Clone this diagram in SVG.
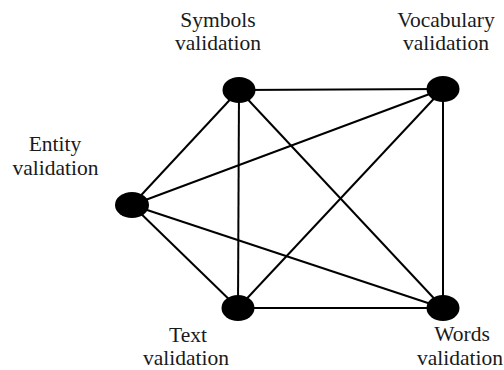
<svg xmlns="http://www.w3.org/2000/svg" width="504" height="370" viewBox="0 0 504 370">
<style>
.e{stroke:#000;stroke-width:2;fill:none}
.n{fill:#000}
text{font-family:'Liberation Serif','Times New Roman',serif;font-size:21.5px;fill:#1a1a1a;text-anchor:middle}
</style>
<rect width="504" height="370" fill="#fff"/>
<g id="connectors">
<line class="e" x1="239" y1="90" x2="443" y2="89"/>
<line class="e" x1="239" y1="90" x2="132" y2="205"/>
<line class="e" x1="239" y1="90" x2="238" y2="308"/>
<line class="e" x1="239" y1="90" x2="443" y2="308"/>
<line class="e" x1="443" y1="89" x2="132" y2="205"/>
<line class="e" x1="443" y1="89" x2="238" y2="308"/>
<line class="e" x1="443" y1="89" x2="443" y2="308"/>
<line class="e" x1="132" y1="205" x2="238" y2="308"/>
<line class="e" x1="132" y1="205" x2="443" y2="308"/>
<line class="e" x1="238" y1="308" x2="443" y2="308"/>
</g>
<g id="symbols">
<ellipse class="n" cx="239" cy="90" rx="16.5" ry="13"/>
<text x="218" y="27">Symbols</text>
<text x="218" y="50">validation</text>
</g>
<g id="vocabulary">
<ellipse class="n" cx="443" cy="89" rx="16.5" ry="13"/>
<text x="446" y="27">Vocabulary</text>
<text x="446" y="50">validation</text>
</g>
<g id="entity">
<ellipse class="n" cx="132" cy="205" rx="17" ry="13"/>
<text x="55" y="151">Entity</text>
<text x="55.5" y="175">validation</text>
</g>
<g id="text">
<ellipse class="n" cx="238" cy="308" rx="16.5" ry="13"/>
<text x="188" y="342">Text</text>
<text x="186" y="365">validation</text>
</g>
<g id="words">
<ellipse class="n" cx="443" cy="308" rx="16.5" ry="13"/>
<text x="462" y="341">Words</text>
<text x="460" y="365">validation</text>
</g>
</svg>
